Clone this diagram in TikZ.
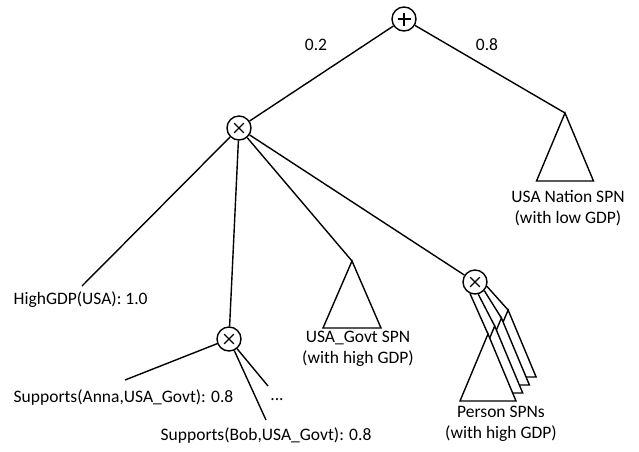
\documentclass[tikz,border=0pt]{standalone}
\usepackage{fontspec}
\setmainfont{Carlito}
\begin{document}
\begin{tikzpicture}[x=1pt,y=-1pt,line width=1.4pt,
  every node/.style={font=\fontsize{17.5}{21}\selectfont},
  lbl/.style={inner sep=0pt},
  opnode/.style={circle,draw,fill=white,minimum size=24pt,inner sep=0pt},
  sumop/.style={opnode,path picture={
    \draw[line width=1.3pt] (path picture bounding box.center) ++(-6.5,0) -- ++(13,0)
      (path picture bounding box.center) ++(0,-6.5) -- ++(0,13);}},
  prodop/.style={opnode,path picture={
    \draw[line width=1.3pt] (path picture bounding box.center) ++(-4.8,-4.8) -- ++(9.6,9.6)
      (path picture bounding box.center) ++(-4.8,4.8) -- ++(9.6,-9.6);}},
  spn/.style={draw,fill=white}
]
\useasboundingbox (0,0) rectangle (639,451);

% operator nodes
\node[sumop]  (sum)  at (404,19)  {};
\node[prodop] (p1)   at (239,128) {};
\node[prodop] (p2)   at (229,339) {};
\node[prodop] (p3)   at (475,282) {};

% triangle apexes and free line ends
\coordinate (nation) at (565,113);
\coordinate (govt)   at (352,261);
\coordinate (gdpend) at (82,286);
\coordinate (annaend) at (125,380);
\coordinate (dotsend) at (268,386);
\coordinate (bobend)  at (266,420);

% root edges with weights
\draw (sum) -- (p1);
\draw (sum) -- (nation);
\node[lbl] (w1) at (316,45) {0.2};
\node[lbl] (w2) at (487,45) {0.8};

% nation sub-network
\draw[spn] (nation) -- ++(-28.5,68) -- ++(57,0) -- cycle;
\node[lbl,align=center] (nationlbl) at (568,208) {USA Nation SPN\\(with low GDP)};

% product node children
\draw (p1) -- (gdpend);
\node[lbl,anchor=west] (gdp) at (13,300) {HighGDP(USA): 1.0};
\draw (p1) -- (p2);
\draw (p1) -- (govt);
\draw[spn] (govt) -- ++(-29,67) -- ++(58,0) -- cycle;
\node[lbl,align=center] (govtlbl) at (358,349) {USA\_Govt SPN\\(with high GDP)};
\draw (p1) -- (p3);

% stacked person sub-networks, back to front, each edge leaving its own point of the circle
\foreach \k/\ang in {3/340,2/317,1/285,0/247}{
  \coordinate (pa\k) at ({488+6.7*\k},{334-8*\k});
  \draw (p3.\ang) -- (pa\k);
  \draw[spn] (pa\k) -- ++(-28,67) -- ++(56,0) -- cycle;
}
\node[lbl,align=center] (personlbl) at (501,424) {Person SPNs\\(with high GDP)};

% supports leaves
\draw (p2) -- (annaend);
\draw (p2) -- (dotsend);
\draw (p2) -- (bobend);
\node[lbl,anchor=west] (anna) at (13,397) {Supports(Anna,USA\_Govt): 0.8};
\node[lbl] (dots) at (277,400) {...};
\node[lbl,anchor=west] (bob) at (160,435) {Supports(Bob,USA\_Govt): 0.8};
\end{tikzpicture}
\end{document}
